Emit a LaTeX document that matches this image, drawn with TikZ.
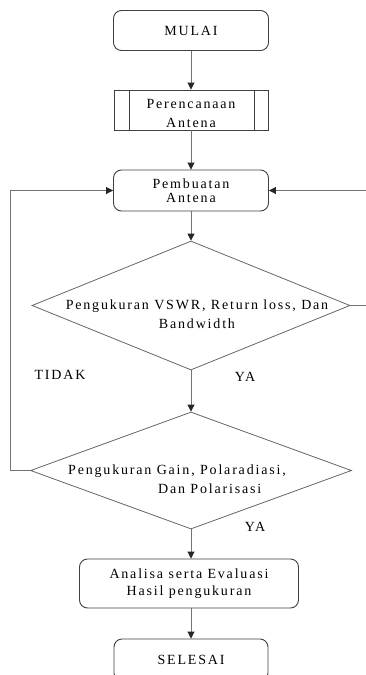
\documentclass[tikz,border=0pt]{standalone}
\usepackage{fontspec}
\setmainfont{Liberation Serif}[LetterSpace=13]
\usetikzlibrary{shapes.geometric,arrows.meta}
\begin{document}
\begin{tikzpicture}[x=1pt,y=-1pt,
  box/.style={draw=black!75, line width=0.9pt, rounded corners=8pt, align=center, inner sep=0pt, font=\fontsize{14}{14}\selectfont},
  ppbox/.style={draw=black!75, line width=0.9pt, minimum width=154pt, minimum height=40pt, inner sep=0pt},
  dia/.style={diamond, draw=black!60, line width=0.8pt, inner sep=0pt},
  txt/.style={inner sep=0pt, font=\fontsize{14}{19}\selectfont},
  lbl/.style={inner sep=0pt, font=\fontsize{14}{15}\selectfont},
  conn/.style={draw=black!55, line width=0.9pt, -{Triangle[width=7pt,length=7pt,color=black!85]}},
  plain/.style={draw=black!55, line width=0.9pt}
]
\useasboundingbox (0,0) rectangle (366,675);
\clip (0,0) rectangle (366,675);

\node[box, minimum width=155pt, minimum height=40pt] (mulai) at (191,30.5) {MULAI};

\node[ppbox] (rencana) at (191,110) {};
\draw[draw=black!75, line width=0.9pt] ([xshift=16pt]rencana.north west) -- ([xshift=16pt]rencana.south west);
\draw[draw=black!75, line width=0.9pt] ([xshift=-14pt]rencana.north east) -- ([xshift=-14pt]rencana.south east);
\node[txt, align=center] (rencanatxt) at (191,113) {Perencanaan\\Antena};

\node[box, minimum width=155pt, minimum height=41pt] (buat) at (191,190.5) {Pembuatan\\Antena};

\node[dia, minimum width=318pt, minimum height=129pt] (d1) at (191,305.5) {};
\node[txt, align=center] (d1t) at (197,314) {Pengukuran VSWR, Return loss, Dan\\Bandwidth};

\node[dia, minimum width=321pt, minimum height=117pt] (d2) at (191,470.5) {};
\node[txt, align=left, anchor=west] (d2t) at (68,479.5) {Pengukuran Gain, Polaradiasi,\\\hspace*{90pt}Dan Polarisasi};

\node[box, minimum width=219pt, minimum height=49pt, font=\fontsize{14}{17}\selectfont] (analisa) at (189,583.5) {Analisa serta Evaluasi\\Hasil pengukuran};

\node[box, minimum width=154pt, minimum height=42pt] (selesai) at (191,660) {SELESAI};

\node[lbl] (tidak) at (60,375) {TIDAK};
\node[lbl] (ya1) at (245,377) {YA};
\node[lbl] (ya2) at (255,527) {YA};

\draw[conn] (mulai.south) -- (rencana.north);
\draw[conn] (rencana.south) -- (buat.north);
\draw[conn] (buat.south) -- (d1.north);
\draw[conn] (d1.south) -- (d2.north);
\draw[conn] (d2.south) -- (d2.south |- analisa.north);
\draw[conn] (analisa.south -| selesai.north) -- (selesai.north);
\draw[conn] (d2.west) -- ++(-20,0) |- (buat.west);
\draw[conn] (d1.east) -- (385,305.5) |- (buat.east);
\end{tikzpicture}
\end{document}
